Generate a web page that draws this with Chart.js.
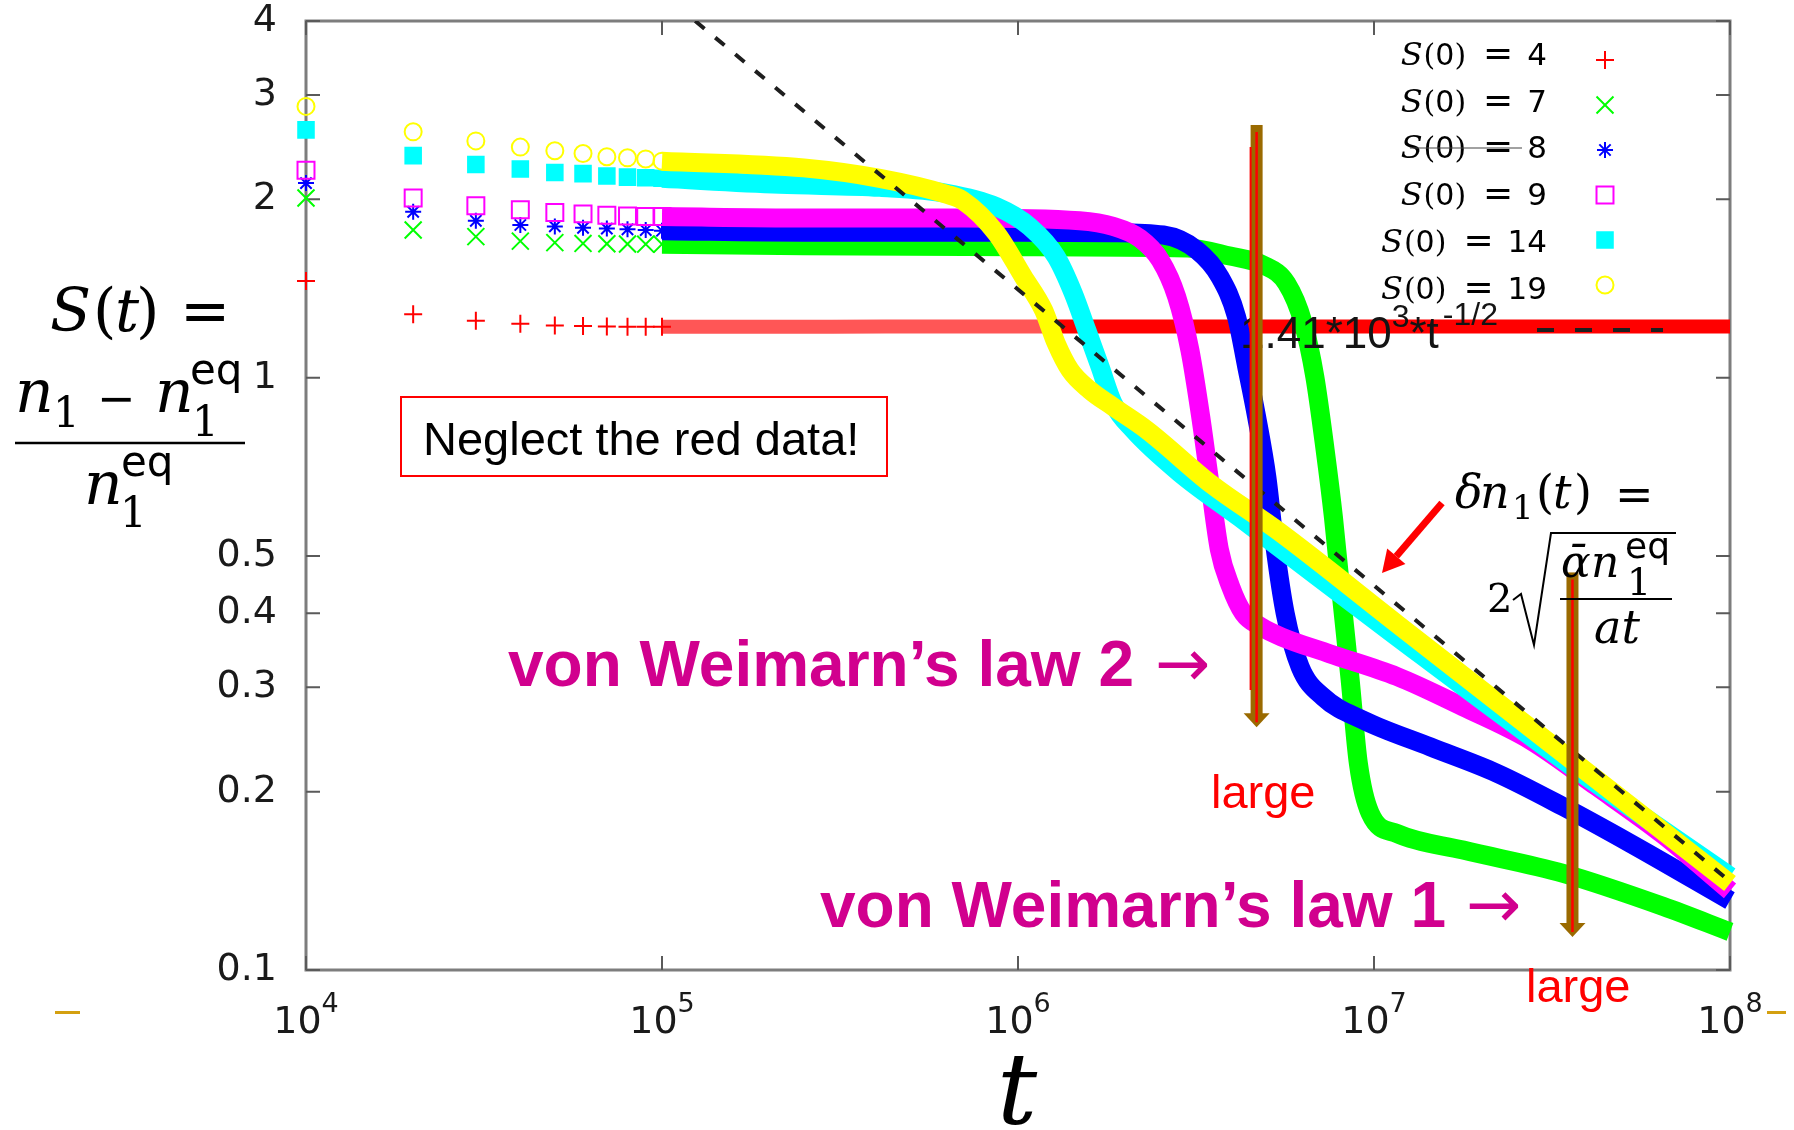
<!DOCTYPE html>
<html>
<head>
<meta charset="utf-8">
<style>
  html, body { margin: 0; padding: 0; background: #fff; }
  canvas { display: block; }
</style>
<script src="https://cdn.jsdelivr.net/npm/chart.js@4.4.1/dist/chart.umd.min.js"></script>
</head>
<body>
<canvas id="relaxChart" width="1794" height="1130"></canvas>
<script>
// initial values S(0) of the six runs
const s0Values = [4, 7, 8, 9, 14, 19];

// early output times, each drawn as a separate marker
const tMarks = [1e4, 2e4, 3e4, 4e4, 5e4, 6e4, 7e4, 8e4, 9e4, 1e5];
const marks4  = [1.456, 1.279, 1.247, 1.233, 1.225, 1.222, 1.220, 1.219, 1.219, 1.219];
const marks7  = [2.01, 1.775, 1.73, 1.70, 1.69, 1.685, 1.683, 1.681, 1.68, 1.68];
const marks8  = [2.13, 1.905, 1.84, 1.81, 1.80, 1.79, 1.785, 1.78, 1.775, 1.77];
const marks9  = [2.24, 2.01, 1.95, 1.92, 1.90, 1.89, 1.88, 1.875, 1.87, 1.87];
const marks14 = [2.62, 2.37, 2.29, 2.25, 2.22, 2.21, 2.19, 2.18, 2.175, 2.17];
const marks19 = [2.87, 2.60, 2.51, 2.45, 2.415, 2.39, 2.36, 2.35, 2.34, 2.32];

// later output is so dense that the markers merge into a band
const t4  = [1e5, 3e5, 6e5, 1.2e6, 3e6, 1e7, 3e7, 1e8];
const s4  = [1.219, 1.219, 1.22, 1.22, 1.22, 1.22, 1.22, 1.22];

const t7  = [1e5, 2.5e5, 1e6, 3e6, 3.94e6, 4.89e6, 5.68e6, 6.33e6, 6.82e6, 7.29e6, 7.69e6, 8.03e6,
             8.57e6, 9.04e6, 9.75e6, 1.16e7, 1.78e7, 3.4e7, 6.5e7, 1e8];
const s7  = [1.68, 1.67, 1.664, 1.655, 1.604, 1.549, 1.443, 1.235, 1.003, 0.755, 0.582, 0.45,
             0.309, 0.223, 0.184, 0.170, 0.1594, 0.1456, 0.128, 0.116];

const t8  = [1e5, 2.5e5, 1e6, 1.85e6, 2.56e6, 3.18e6, 3.69e6, 4.11e6, 4.39e6, 4.68e6, 5.0e6,
             5.27e6, 5.63e6, 6.2e6, 7.2e6, 9.34e6, 1.44e7, 2.21e7, 3.4e7, 5.24e7, 1e8];
const s8  = [1.77, 1.76, 1.76, 1.757, 1.741, 1.642, 1.48, 1.267, 1.043, 0.859, 0.68,
             0.518, 0.40, 0.325, 0.289, 0.264, 0.238, 0.215, 0.1887, 0.1637, 0.131];

const t9  = [1e5, 2.5e5, 7e5, 1.49e6, 1.85e6, 2.2e6, 2.51e6, 2.79e6, 3.04e6, 3.26e6, 3.46e6, 3.68e6,
             3.95e6, 4.3e6, 4.8e6, 5.5e6, 7.5e6, 1.16e7, 1.78e7, 2.74e7, 4.22e7, 6.5e7, 1e8];
const s9  = [1.87, 1.86, 1.86, 1.84, 1.80, 1.718, 1.579, 1.37, 1.113, 0.859, 0.663, 0.512,
             0.445, 0.40, 0.38, 0.365, 0.342, 0.313, 0.278, 0.2445, 0.204, 0.169, 0.136];

const t14 = [1e5, 2.14e5, 4.09e5, 6.3e5, 8.7e5, 1.08e6, 1.28e6, 1.43e6, 1.56e6, 1.70e6, 1.85e6,
             2.11e6, 2.85e6, 4.2e6, 1.16e7, 3.4e7, 1e8];
const s14 = [2.17, 2.12, 2.095, 2.047, 1.943, 1.797, 1.6, 1.388, 1.203, 1.043, 0.905,
             0.816, 0.69, 0.58, 0.365, 0.226, 0.144];

const t19 = [1e5, 2.5e5, 4.09e5, 6.3e5, 7.0e5, 8.7e5, 1.035e6, 1.18e6, 1.28e6, 1.4e6, 1.59e6,
             1.85e6, 2.3e6, 3.5e6, 5.4e6, 1.16e7, 3.4e7, 1e8];
const s19 = [2.32, 2.26, 2.17, 2.04, 1.99, 1.752, 1.48, 1.30, 1.143, 1.03, 0.953,
             0.893, 0.816, 0.66, 0.55, 0.384, 0.232, 0.140];

// power law 1.41*10^3 * t^(-1/2), end points
const fitT = [1.24e5, 1e8];
const fitS = [4.0, 0.141];

const xTicks = [1e4, 1e5, 1e6, 1e7, 1e8];
const yTicks = [0.1, 0.2, 0.3, 0.4, 0.5, 1, 2, 3, 4];

const markSets = [marks4, marks7, marks8, marks9, marks14, marks19];
const bandT = [t4, t7, t8, t9, t14, t19];
const bandS = [s4, s7, s8, s9, s14, s19];

const styles = [
  { color: '#ff0000', pointStyle: 'cross',    radius: 9,  fill: false, band: 14 },
  { color: '#00ff00', pointStyle: 'crossRot', radius: 12, fill: false, band: 19 },
  { color: '#0000ff', pointStyle: 'star',     radius: 8,  fill: false, band: 19 },
  { color: '#ff00ff', pointStyle: 'rect',     radius: 12, fill: false, band: 19 },
  { color: '#00ffff', pointStyle: 'rect',     radius: 11, fill: true,  band: 19 },
  { color: '#ffff00', pointStyle: 'circle',   radius: 8.5, fill: false, band: 19 }
];

const xy = (ts, ss) => ts.map((t, i) => ({ x: t, y: ss[i] }));

const datasets = [];
styles.forEach((st, i) => {
  datasets.push({
    label: 'S(0) = ' + s0Values[i],
    data: xy(bandT[i], bandS[i]),
    borderColor: st.color,
    borderWidth: st.band,
    borderCapStyle: 'butt',
    borderJoinStyle: 'round',
    cubicInterpolationMode: 'monotone',
    pointRadius: 0,
    fill: false,
    clip: false,
    order: 20 - 2 * i,
    segment: i === 0 ? {
      borderColor: c => c.p1.parsed.x <= 1.2e6 ? 'rgba(255,30,30,0.75)' : undefined
    } : undefined
  });
  datasets.push({
    label: 'S(0) = ' + s0Values[i] + ' marks',
    data: xy(tMarks, markSets[i]),
    showLine: false,
    pointStyle: st.pointStyle,
    pointRadius: st.radius,
    pointBorderWidth: 2,
    pointBorderColor: st.color,
    pointBackgroundColor: st.fill ? st.color : 'rgba(0,0,0,0)',
    clip: false,
    order: 19 - 2 * i
  });
});
datasets.push({
  label: '1.41*10^3*t^-1/2',
  data: xy(fitT, fitS),
  borderColor: '#1e1e1e',
  borderWidth: 4,
  borderDash: [12, 14],
  pointRadius: 0,
  fill: false,
  order: 0
});

function put(ctx, t, x, y, font, color, align) {
  ctx.font = font;
  ctx.fillStyle = color || '#000';
  ctx.textAlign = align || 'left';
  ctx.textBaseline = 'alphabetic';
  ctx.fillText(t, x, y);
}

function drawMarker(ctx, st, cx, cy) {
  const r = st.radius, d = r * Math.SQRT1_2;
  ctx.save();
  ctx.strokeStyle = st.color;
  ctx.fillStyle = st.color;
  ctx.lineWidth = 2;
  ctx.beginPath();
  if (st.pointStyle === 'cross' || st.pointStyle === 'star') {
    ctx.moveTo(cx - r, cy); ctx.lineTo(cx + r, cy);
    ctx.moveTo(cx, cy - r); ctx.lineTo(cx, cy + r);
  }
  if (st.pointStyle === 'crossRot' || st.pointStyle === 'star') {
    ctx.moveTo(cx - d, cy - d); ctx.lineTo(cx + d, cy + d);
    ctx.moveTo(cx + d, cy - d); ctx.lineTo(cx - d, cy + d);
  }
  if (st.pointStyle === 'rect') ctx.rect(cx - d, cy - d, 2 * d, 2 * d);
  if (st.pointStyle === 'circle') ctx.arc(cx, cy, r, 0, Math.PI * 2);
  if (st.fill) ctx.fill();
  ctx.stroke();
  ctx.restore();
}

function drawFrame(chart) {
  const { ctx, chartArea: a, scales: { x, y } } = chart;
  ctx.save();
  ctx.strokeStyle = '#7d7d7d';
  ctx.lineWidth = 3;
  ctx.strokeRect(a.left, a.top, a.right - a.left, a.bottom - a.top);
  ctx.strokeStyle = '#5a5a5a';
  ctx.lineWidth = 2;
  ctx.beginPath();
  yTicks.forEach(v => {
    const py = y.getPixelForValue(v);
    ctx.moveTo(a.left, py); ctx.lineTo(a.left + 14, py);
    ctx.moveTo(a.right, py); ctx.lineTo(a.right - 14, py);
  });
  xTicks.forEach(v => {
    const px = x.getPixelForValue(v);
    ctx.moveTo(px, a.bottom); ctx.lineTo(px, a.bottom - 14);
    ctx.moveTo(px, a.top); ctx.lineTo(px, a.top + 14);
  });
  ctx.stroke();
  ctx.restore();
}

function drawXLabels(chart) {
  const { ctx, scales: { x } } = chart;
  xTicks.forEach(v => {
    const px = x.getPixelForValue(v);
    const exp = String(Math.round(Math.log10(v)));
    ctx.font = '38px "DejaVu Sans"';
    const wb = ctx.measureText('10').width;
    ctx.font = '27px "DejaVu Sans"';
    const we = ctx.measureText(exp).width;
    const x0 = px - (wb + we) / 2;
    put(ctx, '10', x0, 1033, '38px "DejaVu Sans"', '#1a1a1a');
    put(ctx, exp, x0 + wb, 1012, '27px "DejaVu Sans"', '#1a1a1a');
  });
}

// legend rows: S(0) = n, right aligned, symbol on the right
function legendRow(ctx, value, right, base) {
  const pieces = [
    { t: 'S', f: 'italic 32px "DejaVu Serif"', g: 1 },
    { t: '(', f: '30px "DejaVu Serif"', g: 0 },
    { t: '0', f: '30px "DejaVu Sans"', g: 0 },
    { t: ')', f: '30px "DejaVu Serif"', g: 17 },
    { t: '=', f: '36px "DejaVu Sans"', g: 14 },
    { t: String(value), f: '31px "DejaVu Sans"', g: 0 }
  ];
  let total = 0;
  pieces.forEach(p => { ctx.font = p.f; p.w = ctx.measureText(p.t).width; total += p.w + p.g; });
  let cx = right - total;
  pieces.forEach(p => { put(ctx, p.t, cx, base, p.f, '#000'); cx += p.w + p.g; });
}

function drawLegend(chart) {
  const ctx = chart.ctx;
  s0Values.forEach((v, i) => {
    legendRow(ctx, v, 1547, 65 + 46.7 * i);
    drawMarker(ctx, styles[i], 1605, 60 + 45 * i);
  });
  // stray stroke across the third entry
  ctx.save();
  ctx.strokeStyle = '#444';
  ctx.lineWidth = 1.2;
  ctx.beginPath(); ctx.moveTo(1410, 148); ctx.lineTo(1522, 148); ctx.stroke();
  ctx.restore();

  // key of the power law
  let cx = 1240;
  const big = '44px "Liberation Sans"', small = '32px "Liberation Sans"';
  const parts = [['1.41*10', big, 348], ['3', small, 327], ['*t', big, 348], ['-1/2', small, 325]];
  parts.forEach(([t, f, b]) => { put(ctx, t, cx, b, f, '#141414'); ctx.font = f; cx += ctx.measureText(t).width + (t === '*t' ? 4 : 0); });
  ctx.save();
  ctx.strokeStyle = '#1e1e1e';
  ctx.lineWidth = 4;
  ctx.setLineDash([17, 21]);
  ctx.beginPath(); ctx.moveTo(1537, 330); ctx.lineTo(1663, 330); ctx.stroke();
  ctx.restore();
}

function downArrow(ctx, px, yTop, yTip, edgeLine) {
  ctx.save();
  ctx.fillStyle = '#9a6a00';
  ctx.fillRect(px - 6, yTop, 12, yTip - yTop - 12);
  ctx.beginPath();
  ctx.moveTo(px - 13, yTip - 14); ctx.lineTo(px + 13, yTip - 14); ctx.lineTo(px, yTip);
  ctx.closePath(); ctx.fill();
  ctx.strokeStyle = '#ff0000';
  ctx.lineWidth = 2.5;
  ctx.beginPath(); ctx.moveTo(px, yTop + 7); ctx.lineTo(px, yTip - 5); ctx.stroke();
  if (edgeLine) {
    ctx.lineWidth = 2;
    ctx.beginPath(); ctx.moveTo(px - 6, edgeLine[0]); ctx.lineTo(px - 6, edgeLine[1]); ctx.stroke();
  }
  ctx.restore();
}

function drawArrows(chart) {
  const { ctx, scales: { x, y } } = chart;
  downArrow(ctx, x.getPixelForValue(4.68e6), y.getPixelForValue(2.67), y.getPixelForValue(0.257), [147, 690]);
  downArrow(ctx, x.getPixelForValue(3.61e7), y.getPixelForValue(0.469), y.getPixelForValue(0.1137));
}

function drawNotes(ctx) {
  const magenta = '#d1008e';
  // boxed remark
  ctx.save();
  ctx.strokeStyle = '#ff0000';
  ctx.lineWidth = 2;
  ctx.fillStyle = '#fff';
  ctx.fillRect(401, 397, 486, 79);
  ctx.strokeRect(401, 397, 486, 79);
  ctx.restore();
  put(ctx, 'Neglect the red data!', 423, 455, '47px "Liberation Sans"', '#000');

  put(ctx, 'von Weimarn\u2019s law 2', 508, 686, 'bold 64px "Liberation Sans"', magenta);
  put(ctx, '\u2192', 1155, 686, '66px "DejaVu Sans"', magenta);
  put(ctx, 'von Weimarn\u2019s law 1', 820, 927, 'bold 64px "Liberation Sans"', magenta);
  put(ctx, '\u2192', 1466, 927, '66px "DejaVu Sans"', magenta);

  put(ctx, 'large', 1211, 808, '47px "Liberation Sans"', '#ff0000');
  put(ctx, 'large', 1526, 1002, '47px "Liberation Sans"', '#ff0000');

  // delta n_1(t) = 2 sqrt(abar n1eq / a t)
  const mi = 'italic 46px "DejaVu Serif"', rm = '46px "DejaVu Serif"';
  put(ctx, '\u03b4', 1455, 508, mi);
  put(ctx, 'n', 1480, 508, mi);
  put(ctx, '1', 1512, 519, '34px "DejaVu Serif"');
  put(ctx, '(', 1536, 508, rm);
  put(ctx, 't', 1553, 508, mi);
  put(ctx, ')', 1574, 508, rm);
  put(ctx, '=', 1615, 510, '46px "DejaVu Sans"');
  put(ctx, '2', 1487, 612, '40px "DejaVu Serif"');
  put(ctx, '\u1fb1', 1561, 577, 'italic 44px "DejaVu Serif"');
  put(ctx, 'n', 1591, 577, 'italic 44px "DejaVu Serif"');
  put(ctx, '1', 1627, 595, '38px "DejaVu Serif"');
  put(ctx, 'eq', 1625, 558, '36px "DejaVu Sans"');
  put(ctx, 'at', 1594, 643, mi);
  ctx.save();
  ctx.strokeStyle = '#000';
  ctx.lineWidth = 2;
  ctx.beginPath();
  ctx.moveTo(1513, 600); ctx.lineTo(1521, 594); ctx.lineTo(1534, 645);
  ctx.lineTo(1551, 533); ctx.lineTo(1676, 533);
  ctx.stroke();
  ctx.beginPath(); ctx.moveTo(1560, 599); ctx.lineTo(1672, 599); ctx.stroke();
  // red pointer to the dashed law
  ctx.strokeStyle = '#ff0000';
  ctx.fillStyle = '#ff0000';
  ctx.lineWidth = 7;
  const ang = Math.atan2(573 - 503, 1382 - 1442);
  const bx = 1382 - Math.cos(ang) * 22, by = 573 - Math.sin(ang) * 22;
  ctx.beginPath(); ctx.moveTo(1442, 503); ctx.lineTo(bx, by); ctx.stroke();
  ctx.beginPath();
  ctx.moveTo(1382, 573);
  ctx.lineTo(bx + Math.sin(ang) * 12, by - Math.cos(ang) * 12);
  ctx.lineTo(bx - Math.sin(ang) * 12, by + Math.cos(ang) * 12);
  ctx.closePath(); ctx.fill();
  // small gold dashes near the baseline of the tick labels
  ctx.fillStyle = '#d4a010';
  ctx.fillRect(55, 1011, 25, 3);
  ctx.fillRect(1767, 1011, 19, 3);
  ctx.restore();
}

function drawAxisTitles(ctx) {
  const mi = 'italic 60px "DejaVu Serif"';
  put(ctx, 'S', 50, 331, mi);
  put(ctx, '(', 93, 331, '60px "DejaVu Serif"');
  put(ctx, 't', 115, 331, mi);
  put(ctx, ')', 136, 331, '60px "DejaVu Serif"');
  put(ctx, '=', 180, 331, '60px "DejaVu Sans"');

  put(ctx, 'n', 15, 412, mi);
  put(ctx, '1', 53, 427, '42px "DejaVu Serif"');
  put(ctx, '\u2212', 97, 414, '46px "DejaVu Sans"');
  put(ctx, 'n', 155, 412, mi);
  put(ctx, '1', 192, 436, '42px "DejaVu Serif"');
  put(ctx, 'eq', 190, 384, '42px "DejaVu Sans"');
  ctx.save();
  ctx.strokeStyle = '#000';
  ctx.lineWidth = 2.5;
  ctx.beginPath(); ctx.moveTo(15, 443); ctx.lineTo(245, 443); ctx.stroke();
  ctx.restore();
  put(ctx, 'n', 84, 504, mi);
  put(ctx, '1', 120, 527, '42px "DejaVu Serif"');
  put(ctx, 'eq', 121, 476, '42px "DejaVu Sans"');

  put(ctx, 't', 997, 1124, 'italic 100px "DejaVu Serif"');
}

const decor = {
  id: 'decor',
  beforeDatasetsDraw(chart) { drawFrame(chart); },
  afterDatasetsDraw(chart) {
    drawLegend(chart);
    drawArrows(chart);
    drawNotes(chart.ctx);
    drawAxisTitles(chart.ctx);
    drawXLabels(chart);
  }
};

new Chart(document.getElementById('relaxChart').getContext('2d'), {
  type: 'line',
  data: { datasets },
  options: {
    responsive: false,
    animation: false,
    events: [],
    layout: { padding: { top: 21, right: 64, left: 0, bottom: 0 } },
    scales: {
      x: {
        type: 'logarithmic',
        min: 1e4,
        max: 1e8,
        grid: { display: false, drawTicks: false },
        border: { display: false },
        ticks: { display: false },
        afterFit: s => {
          s.height = 160;
          s.paddingLeft = 0; s.paddingRight = 0; s.paddingTop = 0; s.paddingBottom = 0;
        }
      },
      y: {
        type: 'logarithmic',
        min: 0.1,
        max: 4,
        grid: { display: false, drawTicks: false },
        border: { display: false },
        afterBuildTicks: s => { s.ticks = yTicks.map(v => ({ value: v })); },
        afterFit: s => {
          s.width = 306;
          s.paddingLeft = 0; s.paddingRight = 0; s.paddingTop = 0; s.paddingBottom = 0;
        },
        ticks: {
          padding: 29,
          color: '#1a1a1a',
          font: { family: 'DejaVu Sans', size: 38, lineHeight: 1 },
          callback: v => String(v)
        }
      }
    },
    plugins: {
      legend: { display: false },
      tooltip: { enabled: false }
    }
  },
  plugins: [decor]
});
</script>
</body>
</html>
